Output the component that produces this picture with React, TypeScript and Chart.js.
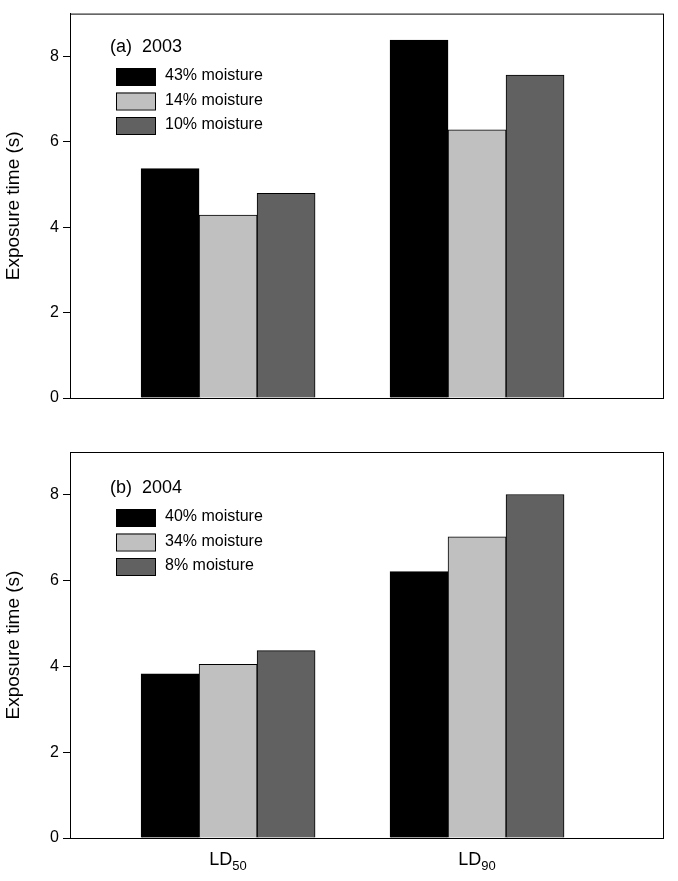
import { useEffect, useRef } from 'react';
import Chart from 'chart.js/auto';

const categoryPos = [1, 2];
const categoryNames = ['50', '90'];
const yTicks = [0, 2, 4, 6, 8];

const labels2003 = ['43% moisture', '14% moisture', '10% moisture'];
const moist43 = [5.37, 8.38];
const moist14 = [4.28, 6.28];
const moist10 = [4.79, 7.56];

const labels2004 = ['40% moisture', '34% moisture', '8% moisture'];
const moist40 = [3.83, 6.21];
const moist34 = [4.05, 7.02];
const moist8 = [4.37, 8.01];

const colors = ['#000000', '#c0c0c0', '#616161'];
const FONT = 'Arial, "Liberation Sans", sans-serif';

function Panel({ title, names, series, height, padTop, padBottom, showX, legendTop }: any) {
  const ref = useRef<HTMLCanvasElement>(null);
  useEffect(() => {
    if (!ref.current) return;
    const overlay = {
      id: 'overlay',
      afterDraw(chart: any) {
        const { ctx, chartArea: a } = chart;
        ctx.save();
        ctx.strokeStyle = '#000';
        ctx.lineWidth = 1;
        ctx.strokeRect(a.left + 0.5, a.top + 0.5, a.right - a.left, a.bottom - a.top);
        ctx.fillStyle = '#000';
        ctx.font = `18px ${FONT}`;
        ctx.textBaseline = 'middle';
        ctx.fillText(title, 110, legendTop);
        ctx.font = `16px ${FONT}`;
        names.forEach((n: string, i: number) => {
          const y = legendTop + 29 + i * 24.5;
          ctx.fillStyle = colors[i];
          ctx.fillRect(116, y - 8, 39, 17);
          ctx.strokeRect(116.5, y - 7.5, 39, 17);
          ctx.fillStyle = '#000';
          ctx.fillText(n, 165, y);
        });
        if (showX) {
          const xs = chart.scales.x;
          categoryPos.forEach((p, i) => {
            const cx = xs.getPixelForValue(p);
            ctx.font = `18px ${FONT}`;
            const w1 = ctx.measureText('LD').width;
            ctx.font = `13px ${FONT}`;
            const w2 = ctx.measureText(categoryNames[i]).width;
            const x0 = cx - (w1 + w2) / 2;
            const y0 = a.bottom + 22;
            ctx.font = `18px ${FONT}`;
            ctx.fillText('LD', x0, y0);
            ctx.font = `13px ${FONT}`;
            ctx.fillText(categoryNames[i], x0 + w1, y0 + 6);
          });
        }
        ctx.restore();
      },
    };
    const chart = new Chart(ref.current, {
      type: 'bar',
      data: {
        datasets: series.map((s: number[], i: number) => ({
          label: names[i],
          data: s.map((v, j) => ({ x: categoryPos[j], y: v })),
          backgroundColor: colors[i],
          borderColor: '#000',
          borderWidth: 1,
          barThickness: 58,
        })),
      },
      options: {
        animation: false,
        responsive: false,
        layout: { padding: { top: padTop, bottom: padBottom, right: 15, left: 0 } },
        plugins: { legend: { display: false }, tooltip: { enabled: false } },
        scales: {
          x: { type: 'linear', min: 0.365, max: 2.747, offset: false, display: false },
          y: {
            min: 0,
            max: 9,
            afterBuildTicks: (ax: any) => { ax.ticks = yTicks.map((v) => ({ value: v })); },
            afterFit: (ax: any) => { ax.width = 70; },
            grid: { drawOnChartArea: false, tickLength: 7, color: '#000' },
            border: { color: '#000' },
            ticks: { color: '#000', font: { size: 16, family: FONT }, padding: 4 },
            title: { display: true, text: 'Exposure time (s)', color: '#000', font: { size: 19, family: FONT }, padding: 2 },
          },
        },
      },
      plugins: [overlay],
    });
    return () => chart.destroy();
  }, []);
  return <canvas ref={ref} width={678} height={height} style={{ display: 'block' }} />;
}

export default function App() {
  return (
    <div style={{ position: 'absolute', left: 0, top: 0, width: 678, height: 881, background: '#fff' }}>
      <Panel title="(a)  2003" names={labels2003} series={[moist43, moist14, moist10]}
        height={425} padTop={12} padBottom={27} showX={false} legendTop={47} />
      <Panel title="(b)  2004" names={labels2004} series={[moist40, moist34, moist8]}
        height={456} padTop={27} padBottom={43} showX={true} legendTop={63} />
    </div>
  );
}
